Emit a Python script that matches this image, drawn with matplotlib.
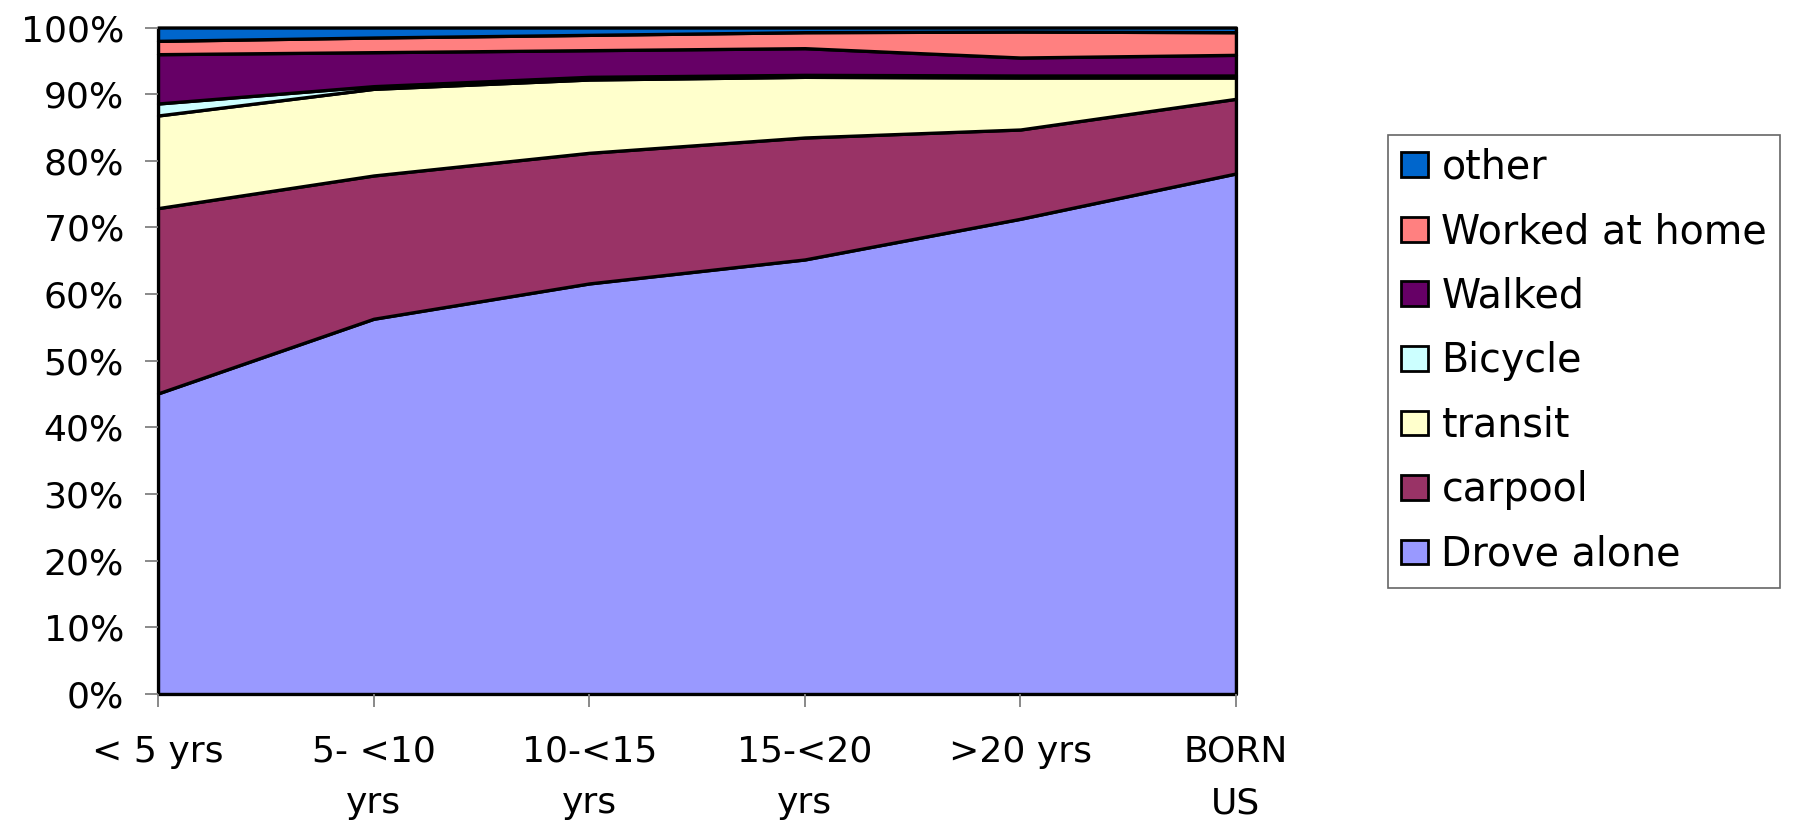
import matplotlib
matplotlib.use("Agg")
import matplotlib.pyplot as plt
from matplotlib.patches import Patch
import numpy as np

# Commute mode share by years in the US (percent of workers)
categories = ["< 5 yrs", "5- <10\nyrs", "10-<15\nyrs", "15-<20\nyrs", ">20 yrs", "BORN\nUS"]
drove_alone = [45.1, 56.3, 61.6, 65.2, 71.3, 78.1]
carpool = [27.8, 21.5, 19.6, 18.3, 13.4, 11.2]
transit = [13.9, 13.0, 11.0, 9.1, 7.8, 3.2]
bicycle = [1.8, 0.4, 0.4, 0.3, 0.3, 0.3]
walked = [7.4, 5.1, 4.0, 4.0, 2.7, 3.1]
worked_at_home = [2.0, 2.2, 2.3, 2.4, 3.9, 3.4]
other = [2.0, 1.5, 1.1, 0.7, 0.6, 0.7]

series_names = ["Drove alone", "carpool", "transit", "Bicycle", "Walked",
                "Worked at home", "other"]
series_colors = ["#9999FF", "#993366", "#FFFFCC", "#CCFFFF", "#660066",
                 "#FF8080", "#0066CC"]
y_ticks = [0, 10, 20, 30, 40, 50, 60, 70, 80, 90, 100]

data = np.array([drove_alone, carpool, transit, bicycle, walked,
                 worked_at_home, other], dtype=float)
data = data / data.sum(axis=0) * 100.0  # 100% stacked
x = np.arange(len(categories))

fig = plt.figure(figsize=(17.98, 8.24), dpi=100)
ax = fig.add_axes([0.0879, 0.1578, 0.5995, 0.8088])

polys = ax.stackplot(x, data, colors=series_colors, edgecolor="black",
                     linewidth=2.4)
for p in polys:
    p.set_clip_on(False)

ax.set_xlim(0, len(categories) - 1)
ax.set_ylim(0, 100)
ax.set_yticks(y_ticks)
ax.set_yticklabels([f"{v}%" for v in y_ticks], fontsize=26,
                   family="DejaVu Sans")
ax.set_xticks(x)
ax.set_xticklabels(categories, fontsize=26, family="DejaVu Sans",
                   linespacing=1.65)

for s in ax.spines.values():
    s.set_visible(False)
ax.tick_params(axis="both", direction="out", length=9.5, width=1.3,
               color="#808080")
ax.tick_params(axis="x", pad=20)
ax.tick_params(axis="y", pad=15)

handles = [Patch(facecolor=c, edgecolor="black", linewidth=2.0, label=n)
           for n, c in zip(series_names, series_colors)][::-1]
leg = fig.legend(handles=handles, loc="upper left",
                 bbox_to_anchor=(1388 / 1798, 1 - 135 / 824),
                 bbox_transform=fig.transFigure,
                 frameon=True, fancybox=False, borderaxespad=0,
                 handlelength=0.68, handleheight=0.58, handletextpad=0.35,
                 labelspacing=0.62, borderpad=0.32,
                 prop={"family": "DejaVu Sans", "size": 28.5})
leg.get_frame().set_edgecolor("#404040")
leg.get_frame().set_linewidth(1.2)

fig.savefig("out.png", dpi=100, facecolor="white")
